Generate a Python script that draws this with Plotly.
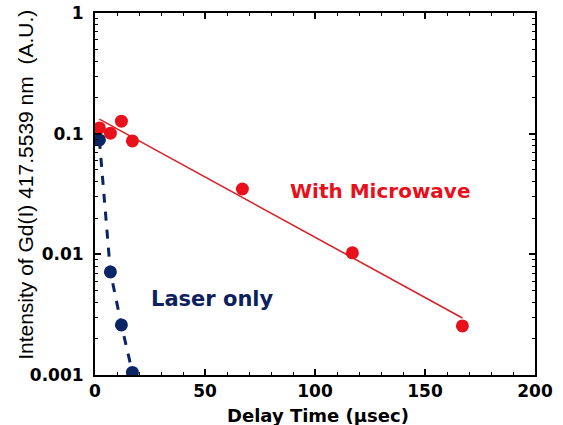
import math
import plotly.graph_objects as go

# Data
mw_x = [2, 7, 12, 17, 67, 117, 167]
mw_y = [0.1115, 0.101, 0.127, 0.087, 0.0348, 0.0103, 0.00255]
fit_x = [2, 167]
fit_y = [0.132, 0.00297]
laser_x = [2, 7, 12, 17]
laser_y = [0.0887, 0.00715, 0.0026, 0.00105]

y_ticks = [1, 0.1, 0.01, 0.001]
y_ticktext = ["1", "0.1", "0.01", "0.001"]
x_ticks = [0, 50, 100, 150, 200]
y_minor = [m * d for d in [0.001, 0.01, 0.1] for m in range(2, 10)]
x_minor = list(range(0, 201, 10))

RED = "#e8101a"
NAVY = "#0b2466"
FONT_B = "DejaVu Sans"

fig = go.Figure()
fig.add_trace(go.Scatter(x=fit_x, y=fit_y, mode="lines",
                         line=dict(color="#d8232a", width=1.6), hoverinfo="skip"))
fig.add_trace(go.Scatter(x=laser_x, y=laser_y, mode="lines",
                         line=dict(color=NAVY, width=3, dash="dash"), hoverinfo="skip"))
fig.add_trace(go.Scatter(x=mw_x, y=mw_y, mode="markers",
                         marker=dict(color=RED, size=13, line=dict(width=0))))
fig.add_trace(go.Scatter(x=laser_x, y=laser_y, mode="markers",
                         marker=dict(color=NAVY, size=13, line=dict(width=0))))

fig.add_annotation(x=129.5, y=math.log10(0.0335), text="With Microwave", showarrow=False,
                   font=dict(family=FONT_B, size=20, color=RED, weight="bold"))
fig.add_annotation(x=53.2, y=math.log10(0.00427), text="Laser only", showarrow=False,
                   font=dict(family=FONT_B, size=21, color="#0d1f5c", weight="bold"))

# axis titles
fig.add_annotation(xref="paper", yref="paper", x=0.507, y=-0.1105, yanchor="middle",
                   text="Delay Time (µsec)", showarrow=False,
                   font=dict(family=FONT_B, size=18, color="black", weight="bold"))
fig.add_annotation(xref="paper", yref="paper", x=-0.157, y=0.525, xanchor="center",
                   yanchor="middle", textangle=-90,
                   text="Intensity of Gd(I) 417.5539 nm  (A.U.)", showarrow=False,
                   font=dict(family="Liberation Sans", size=21, color="black"))

fig.update_layout(
    width=563, height=425,
    margin=dict(l=95, r=28, t=13, b=50),
    plot_bgcolor="white", paper_bgcolor="white",
    showlegend=False,
    xaxis=dict(range=[0, 200], tickvals=x_ticks, ticks="inside", ticklen=6, tickwidth=1.5,
               tickcolor="black", showline=True, linecolor="black", linewidth=2, mirror="allticks",
               showgrid=False, zeroline=False, automargin=False,
               tickfont=dict(family=FONT_B, size=17, color="black", weight="bold"),
               ticklabelstandoff=0,
               minor=dict(tickvals=x_minor, ticks="inside", ticklen=3, tickwidth=1, tickcolor="black")),
    yaxis=dict(type="log", range=[-3, 0], tickvals=y_ticks, ticktext=y_ticktext,
               ticks="inside", ticklen=6, tickwidth=1.5, tickcolor="black",
               showline=True, linecolor="black", linewidth=2, mirror="allticks",
               showgrid=False, zeroline=False, automargin=False,
               tickfont=dict(family=FONT_B, size=17, color="black", weight="bold"),
               ticklabelstandoff=6,
               minor=dict(tickvals=y_minor, ticks="inside", ticklen=3, tickwidth=1, tickcolor="black")),
)

fig.write_html("out.html")
